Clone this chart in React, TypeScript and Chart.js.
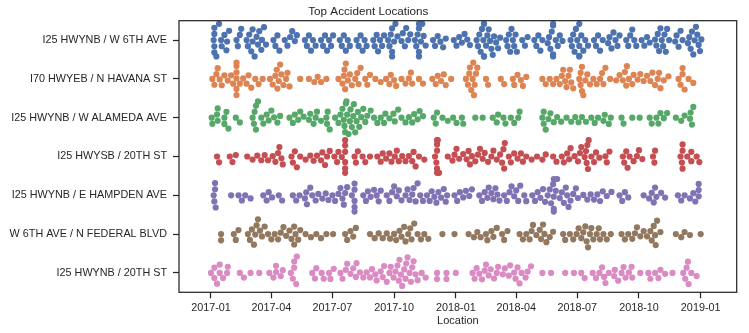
import { useEffect, useRef } from 'react';
import { Chart, registerables } from 'chart.js';

Chart.register(...registerables);

const FONT = "'Liberation Sans', Arial, sans-serif";
const INK = '#262626';

const chartTitle = 'Top Accident Locations';
const xAxisTitle = 'Location';

const categories = [
  'I25 HWYNB / W 6TH AVE',
  'I70 HWYEB / N HAVANA ST',
  'I25 HWYNB / W ALAMEDA AVE',
  'I25 HWYSB / 20TH ST',
  'I25 HWYNB / E HAMPDEN AVE',
  'W 6TH AVE / N FEDERAL BLVD',
  'I25 HWYNB / 20TH ST',
];

const colors = ['#4C72B0', '#DD8452', '#55A868', '#C44E52', '#8172B3', '#937860', '#DA8BC3'];

// days since 2017-01-01
const tickDays = [0, 90, 181, 273, 365, 455, 546, 638, 730];
const tickLabels = ['2017-01', '2017-04', '2017-07', '2017-10', '2018-01', '2018-04', '2018-07', '2018-10', '2019-01'];

const w6thAve = [
  4, 5, 5, 5, 5, 8, 12, 15, 16, 20, 23, 24, 27,
  38, 40, 43, 45,
  53, 55, 57, 60, 62, 62, 65, 68, 70, 72, 75, 76, 79, 82,
  93, 96, 99, 102,
  110, 114, 118, 121, 125, 128,
  140, 143, 146, 149, 152, 156,
  164, 167, 170, 173, 176, 179, 182,
  192, 195, 198, 201, 204, 207,
  217, 220, 223, 226, 229, 232,
  242, 244, 247, 249, 252, 255, 258,
  264, 266, 268, 270, 270, 270, 273, 275, 278,
  284, 286, 289, 291, 294, 297,
  304, 306, 308, 310, 310, 310, 310, 313, 315, 317, 320,
  331, 334, 338, 342, 346, 350,
  362, 366, 370, 374, 378, 382, 386,
  396, 398, 400, 402, 404, 406, 407, 407, 407, 407, 410, 412, 414, 416, 418, 420, 422, 425, 428, 431,
  440, 442, 444, 446, 448, 450, 452, 454, 456,
  464, 468, 472,
  482, 485, 488, 491, 494,
  502, 504, 506, 508, 510, 510, 510, 510, 514, 517, 520, 524,
  536, 538, 540, 542, 544, 546, 549, 549, 549, 549, 552, 555, 558, 562,
  571, 574, 577, 580, 584,
  592, 594, 597, 600, 603, 606, 609,
  619, 622, 625, 628, 631, 634,
  642, 646, 650, 654,
  662, 664, 666, 668, 670, 672, 674, 676, 678, 680, 683,
  692, 694, 697, 700, 703,
  711, 713, 715, 717, 719, 721, 723, 725, 727, 729, 731,
];

const havana = [
  2, 5, 8, 10, 13, 16, 20, 25,
  30, 33, 38, 38, 38, 38, 38, 38,
  43, 48, 53, 56, 60, 66, 71, 77,
  88, 92, 96, 98, 99, 101, 103, 105, 108, 112, 114, 117,
  133, 146, 154, 159, 164, 172,
  190, 196, 198, 199, 200, 201, 204, 207, 210, 215, 218, 220, 223, 230, 233, 237,
  245, 253, 261, 266, 268, 273, 276, 284, 290, 295, 298, 300, 310, 316, 330, 335, 338, 343, 347, 350, 358,
  380, 383, 385, 386, 388, 390, 391, 392, 393, 395, 397,
  410, 413, 432, 437, 450, 452, 457, 462, 465, 470,
  494, 499, 505, 510, 515, 520, 523, 525, 528, 530, 533, 535, 537, 540,
  549, 551, 551, 553, 553, 555, 558, 561, 565, 570, 575, 580, 583, 585, 588, 595,
  604, 609, 614, 617, 619, 620, 623, 628, 630, 636, 640, 645, 650, 655, 658, 662, 666, 668, 670, 675, 682,
  697, 700, 703, 703, 706, 712, 719,
];

const alameda = [
  1, 2, 9, 10, 10, 20, 20, 23, 26,
  37, 43,
  62, 64, 65, 67, 67, 70, 75, 78, 83, 86, 90, 94, 99, 103,
  117, 122, 125, 130, 133, 138, 146, 148, 153, 156, 158, 164, 172, 173, 174, 177,
  185, 190, 193, 196, 198, 199, 200, 201, 202, 203, 205, 207, 208, 210, 212, 213, 215, 217, 219, 221, 224, 227,
  230, 233, 238, 243, 248, 253, 258, 260, 266, 272, 274, 279, 284, 290, 295, 300, 303, 308, 311, 316,
  332, 335, 337, 345, 353, 361, 366, 374, 376,
  394, 405,
  420, 426, 428, 436, 439, 447, 452, 458, 460,
  494, 496, 496, 499, 503, 506, 511, 516, 522, 530, 537, 543, 548, 553, 559, 567, 572, 577, 585, 587, 593, 596,
  612, 615, 628, 639,
  654, 657, 664, 667, 670, 675, 680,
  693, 701, 706, 714, 715, 717, 719,
];

const i25sb20th = [
  9, 12, 28, 32, 37, 54, 62, 69, 75, 80, 85,
  92, 96, 100, 102, 105, 107,
  120, 122, 125, 128, 133,
  141, 148, 153, 158, 164, 166, 170, 173, 177,
  184, 188, 190, 195, 200, 200, 200, 200, 200, 200,
  214, 216, 219, 226, 230, 237,
  248, 253, 256, 261, 266, 269, 274, 277, 280, 285,
  290, 295, 300, 302, 305, 310, 318,
  334, 336, 337, 337, 337, 337, 337, 338, 340,
  353, 360, 363, 366, 370, 376, 381, 384, 386, 389, 394, 398, 401, 405, 408, 413, 418, 421, 426, 431, 434, 436, 437, 438, 444, 447, 452, 457, 462, 465, 470,
  478, 486, 494, 499, 510, 515, 523, 526, 531, 534,
  536, 542, 547, 550, 552, 557, 559, 560, 561, 562, 563, 567, 571, 574, 579, 588, 590, 594,
  614, 616, 619, 621, 624, 630, 635, 638, 643, 659, 661, 662,
  700, 702, 703, 703, 703, 710, 716, 716, 724, 728,
];

const hampden = [
  4, 5, 6, 6, 7, 30, 41, 46, 51, 59, 78, 83, 86, 91, 101, 106,
  122, 127, 132, 140, 142, 143, 148,
  151, 156, 160, 166, 171, 175, 181, 185, 190,
  193, 196, 198, 200, 203,
  210, 214, 214, 214, 214, 214,
  227, 231, 234, 238, 243, 247, 250, 253,
  262, 266, 270, 273, 277, 280, 284,
  290, 293, 296, 300, 302, 305, 308, 312, 316,
  322, 326, 329, 333, 336, 339, 343, 347, 350, 352,
  363, 367, 371, 376, 380, 385, 389,
  400, 404, 408, 412, 414, 418, 421, 424, 427, 430,
  437, 441, 445, 448, 452, 455, 458, 461, 467, 470,
  479, 483, 487, 491, 495, 498,
  502, 505, 507, 510, 511, 511, 511, 511, 514, 516, 520, 523, 526, 529, 531, 533, 536, 540, 544, 547,
  555, 561, 566, 571, 576, 580, 584, 590, 597,
  609, 613, 617, 622,
  645, 653, 657, 660, 662, 664, 671, 677,
  696, 701, 706, 714, 719, 722, 727, 727, 727,
];

const federal = [
  15, 15, 34, 37, 41,
  55, 58, 61, 64, 66, 68, 70, 73, 76, 80,
  85, 90, 95, 100, 104, 108, 112,
  117, 120, 124, 124, 126, 130, 133,
  141, 149, 157, 164, 172, 182,
  200, 203, 208, 212, 216,
  237, 244, 250, 256,
  262, 267, 273, 276, 281, 284, 288, 290, 294, 297, 299, 303, 308, 313, 318, 324,
  345, 363,
  384, 392, 397, 402, 410, 412, 418, 421, 426,
  434, 437, 442,
  460, 465, 470, 475, 478, 480, 485, 490, 492, 495, 497, 500, 505, 510,
  525, 528, 535, 540, 545, 548, 552, 555, 558, 560, 562, 565, 567, 570, 575, 578, 580, 585, 590, 596,
  612, 617, 622, 628, 632, 635, 640, 645, 650, 655, 657, 660, 662, 663, 665, 670,
  693, 701, 706, 714, 730,
];

const i25nb20th = [
  0, 5, 5, 9, 13, 13, 18, 24, 25,
  43, 49, 59, 72,
  87, 93, 97, 97, 104, 107, 119, 122, 124, 124, 127, 128,
  151, 155, 157, 165, 168, 176, 178, 183, 193, 196,
  201, 203, 208, 212, 216, 217, 222,
  227, 232, 237, 240, 245, 247, 253, 256, 258,
  262, 266, 268, 272, 275, 278, 280, 281, 283, 285, 288, 290, 291, 293, 296, 298, 300, 302, 305, 308, 314, 320,
  337, 337, 351, 351, 365,
  390, 393, 396, 400, 404, 408, 410, 414, 417, 422, 426, 428, 435, 438, 444, 446, 452, 454, 457, 460, 463, 469, 472, 477,
  494, 507, 528, 541, 552, 557,
  569, 574, 579, 583, 586, 588, 593, 601, 602, 607, 612, 615, 618, 623, 627, 628, 640,
  652, 655, 662, 667, 670, 677, 688,
  704, 707, 709, 711, 712, 716, 724,
];

const seriesDays = [w6thAve, havana, alameda, i25sb20th, hampden, federal, i25nb20th];

// seaborn-like beeswarm layout in pixel space
function beeswarm(xs: number[], d: number, limit: number): number[] {
  const order = xs.map((_, i) => i).sort((a, b) => xs[a] - xs[b]);
  const placed: { x: number; y: number }[] = [];
  const out: number[] = new Array(xs.length).fill(0);
  for (const i of order) {
    const x = xs[i];
    const nb = placed.filter((p) => Math.abs(p.x - x) < d);
    const cands: number[] = [0];
    for (const p of nb) {
      const dy = Math.sqrt(Math.max(0, d * d - (p.x - x) * (p.x - x)));
      cands.push(p.y + dy, p.y - dy);
    }
    cands.sort((a, b) => Math.abs(a) - Math.abs(b));
    let y = cands[cands.length - 1];
    for (const c of cands) {
      let ok = true;
      for (const p of nb) {
        if ((p.x - x) * (p.x - x) + (p.y - c) * (p.y - c) < d * d - 1e-6) { ok = false; break; }
      }
      if (ok) { y = c; break; }
    }
    placed.push({ x, y });
    out[i] = y;
  }
  return out.map((y) => Math.max(-limit, Math.min(limit, y)));
}

const boxPlugin = {
  id: 'box',
  afterDraw(chart: any) {
    const { ctx, chartArea: a } = chart;
    ctx.save();
    ctx.strokeStyle = INK;
    ctx.lineWidth = 1.25;
    ctx.strokeRect(a.left, a.top, a.right - a.left, a.bottom - a.top);
    ctx.restore();
  },
};

export default function App() {
  const ref = useRef<HTMLCanvasElement | null>(null);
  useEffect(() => {
    document.body.style.margin = '0';
    const tickFont = { family: FONT, size: 10.8 };
    const chart = new Chart(ref.current as HTMLCanvasElement, {
      type: 'scatter',
      data: {
        datasets: seriesDays.map((days, i) => ({
          label: categories[i],
          data: days.map((x) => ({ x, y: i })),
          backgroundColor: colors[i],
          borderWidth: 0,
          pointRadius: 3.1,
          pointHoverRadius: 3.1,
        })),
      },
      options: {
        responsive: false,
        animation: false,
        events: [],
        layout: { padding: { left: 0, right: 12.3, top: 0, bottom: 0 } },
        plugins: {
          legend: { display: false },
          tooltip: { enabled: false },
          title: {
            display: true,
            text: chartTitle,
            color: INK,
            font: { family: FONT, size: 11.7, weight: 'normal' },
            padding: { top: 4.5, bottom: 2.16 },
          },
        },
        scales: {
          x: {
            type: 'linear',
            min: -47.7,
            max: 783.7,
            afterBuildTicks: (s: any) => { s.ticks = tickDays.map((v) => ({ value: v })); },
            afterFit: (s: any) => { s.height = 40.7; },
            ticks: {
              callback: (v: any) => tickLabels[tickDays.indexOf(Number(v))],
              color: INK,
              font: tickFont,
              maxRotation: 0,
              autoSkip: false,
              padding: 3,
            },
            grid: { display: true, drawOnChartArea: false, tickLength: 6, tickColor: INK, tickWidth: 1.25 },
            border: { display: false },
            title: { display: true, text: xAxisTitle, color: INK, font: { family: FONT, size: 11 }, padding: { top: 0, bottom: 5 } },
          },
          y: {
            type: 'linear',
            reverse: true,
            min: -0.5,
            max: 6.5,
            afterBuildTicks: (s: any) => { s.ticks = categories.map((_, i) => ({ value: i })); },
            afterFit: (s: any) => { s.width = 179; },
            ticks: {
              callback: (v: any) => categories[Number(v)],
              color: INK,
              font: tickFont,
              autoSkip: false,
              padding: 6,
            },
            grid: { display: true, drawOnChartArea: false, tickLength: 6, tickColor: INK, tickWidth: 1.25 },
            border: { display: false },
          },
        },
      } as any,
      plugins: [boxPlugin],
    });

    const xs = chart.scales.x;
    const ys = chart.scales.y;
    const pxPerCat = Math.abs(ys.getPixelForValue(1) - ys.getPixelForValue(0));
    seriesDays.forEach((days, i) => {
      const px = days.map((dd) => xs.getPixelForValue(dd));
      const off = beeswarm(px, 6.2, 0.42 * pxPerCat);
      (chart.data.datasets[i] as any).data = days.map((dd, k) => ({ x: dd, y: i + off[k] / pxPerCat }));
    });
    chart.update();

    return () => chart.destroy();
  }, []);
  return <canvas ref={ref} width={749} height={333} style={{ display: 'block' }} />;
}
